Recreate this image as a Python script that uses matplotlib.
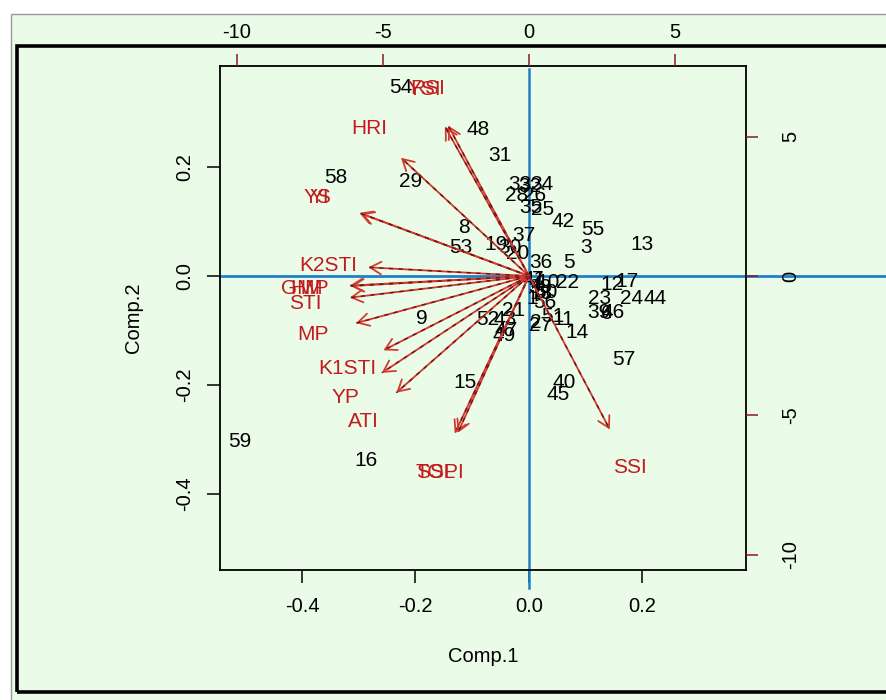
import matplotlib
matplotlib.use("Agg")
import matplotlib.pyplot as plt
from matplotlib.patches import Rectangle

plt.rcParams['font.family'] = ['Liberation Sans', 'DejaVu Sans']

# ---- observation scores (Comp.1 / Comp.2, bottom/left axes) ----
score_labels = ["54", "48", "31", "58", "29", "8", "53", "19", "30", "20",
                "37", "33", "32", "34", "28", "26", "35", "25", "42", "55",
                "13", "3", "36", "5", "22", "10", "4", "12", "17", "7",
                "23", "24", "44", "39", "46", "6", "56", "18", "51", "11",
                "14", "27", "2", "21", "52", "43", "49", "47", "9", "15",
                "40", "45", "57", "59", "16", "1", "38", "41", "50"]
score_x = [-0.2256, -0.0899, -0.0511, -0.340, -0.208, -0.1145, -0.1198, -0.0581, -0.0335, -0.0194,
           -0.0088, -0.0159, 0.0018, 0.0229, -0.0211, 0.0106, 0.0035, 0.0247, 0.0599, 0.1128,
           0.1991, 0.1004, 0.0211, 0.0705, 0.0687, 0.0335, 0.0123, 0.1463, 0.1727, 0.0159,
           0.1251, 0.1815, 0.2220, 0.1233, 0.1480, 0.1374, 0.0282, 0.0211, 0.0423, 0.0599,
           0.0846, 0.0211, 0.0123, -0.0264, -0.0722, -0.0423, -0.0441, -0.0405, -0.1885, -0.1128,
           0.0617, 0.0511, 0.1674, -0.5093, -0.2872, 0.0053, 0.0194, 0.0088, 0.0300]
score_y = [0.345, 0.268, 0.222, 0.180, 0.174, 0.0899, 0.0532, 0.0569, 0.0532, 0.0404,
           0.0734, 0.1688, 0.1651, 0.1688, 0.1468, 0.1486, 0.1248, 0.1229, 0.0991, 0.0862,
           0.0587, 0.0514, 0.0239, 0.0239, -0.0110, -0.0110, -0.0147, -0.0147, -0.0092, -0.0055,
           -0.0404, -0.0404, -0.0404, -0.0661, -0.0661, -0.0679, -0.0495, -0.0312, -0.0734, -0.0807,
           -0.1028, -0.0917, -0.0862, -0.0642, -0.0807, -0.0807, -0.1083, -0.1009, -0.0771, -0.1945,
           -0.1945, -0.2165, -0.1523, -0.3028, -0.3376, -0.0404, -0.0202, -0.0055, -0.0294]

# ---- variable loadings (top/right axes) ----
var_labels = ["RSI", "YSI", "HRI", "YS", "YI", "K2STI", "GMP", "HM", "STI", "MP",
              "K1STI", "YP", "ATI", "TOL", "SSPI", "SSI"]
var_x = [-3.46, -3.60, -5.48, -7.26, -7.19, -6.88, -7.67, -7.62, -7.67, -7.40,
         -6.23, -6.30, -5.68, -3.18, -3.05, 3.46]
var_y = [6.74, 6.70, 5.30, 2.83, 2.80, 0.39, -0.43, -0.45, -0.97, -2.11,
         -3.33, -4.34, -5.23, -7.06, -7.03, -6.88]

x1_ticks = [-0.4, -0.2, 0.0, 0.2]
x1_ticklabels = ["-0.4", "-0.2", "0.0", "0.2"]
y1_ticks = [-0.4, -0.2, 0.0, 0.2]
y1_ticklabels = ["-0.4", "-0.2", "0.0", "0.2"]
x2_ticks = [-10, -5, 0, 5]
x2_ticklabels = ["-10", "-5", "0", "5"]
y2_ticks = [-10, -5, 0, 5]
y2_ticklabels = ["-10", "-5", "0", "5"]

GREEN = "#eafbe8"
RED = "#c41a1e"
ARROW = "#d23a30"
BLUE = "#1f80c8"
TICKRED = "#8b1a1a"
FS = 15
TFS = 14.5

W, H = 886, 700
fig = plt.figure(figsize=(W / 100, H / 100), dpi=100)
fig.patch.set_facecolor("white")

# outer panel
fig.patches.append(Rectangle((11 / W, -0.01), 1.0, (H - 14) / H + 0.01,
                             transform=fig.transFigure, facecolor=GREEN,
                             edgecolor="#9a9a9a", lw=1.0, zorder=-10))
fig.patches.append(Rectangle((17 / W, (H - 692) / H), 1.0, (692 - 46) / H,
                             transform=fig.transFigure, fill=False,
                             edgecolor="black", lw=2.6, zorder=-9))

pos = [220 / W, (H - 570) / H, (746 - 220) / W, (570 - 66) / H]
ax = fig.add_axes(pos)
ax.set_zorder(2)
ax.set_facecolor(GREEN)
ax.set_xlim(-0.5445, 0.3824)
ax.set_ylim(-0.5394, 0.3853)
for s in ax.spines.values():
    s.set_linewidth(1.3)
    s.set_color("black")
ax.set_xticks(x1_ticks)
ax.set_xticklabels(x1_ticklabels)
ax.set_yticks(y1_ticks)
ax.set_yticklabels(y1_ticklabels, rotation=90, va="center")
ax.tick_params(axis="x", length=9.5, width=1.1, labelsize=TFS, pad=10)
ax.tick_params(axis="y", length=9.5, width=1.1, labelsize=TFS, pad=9)

ax2 = fig.add_axes(pos, frameon=False)
ax2.set_zorder(3)
ax2.patch.set_visible(False)
ax2.set_xlim(-10.58, 7.43)
ax2.set_ylim(-10.54, 7.53)
ax2.xaxis.tick_top()
ax2.yaxis.tick_right()
ax2.set_xticks(x2_ticks)
ax2.set_xticklabels(x2_ticklabels)
ax2.set_yticks(y2_ticks)
ax2.set_yticklabels(y2_ticklabels, rotation=90, va="center")
ax2.tick_params(axis="x", length=8.5, width=1.1, color=TICKRED, labelcolor="black",
                labelsize=TFS, pad=9)
ax2.tick_params(axis="y", length=8.5, width=1.1, color=TICKRED, labelcolor="black",
                labelsize=TFS, pad=17)

# blue reference lines
ax.plot([ax.get_xlim()[0], 0.64], [0, 0], color=BLUE, lw=2.0, clip_on=False, zorder=2)
ax.plot([0, 0], [0.380, -0.5725], color=BLUE, lw=1.8, clip_on=False, zorder=2)

# scores
for lab, x, y in zip(score_labels, score_x, score_y):
    ax.text(x, y, lab, color="black", fontsize=FS, ha="center", va="center", zorder=4)

# arrows and variable labels
for lab, x, y in zip(var_labels, var_x, var_y):
    ax2.annotate("", xy=(0.8 * x, 0.8 * y), xytext=(0, 0),
                 arrowprops=dict(arrowstyle="->,head_length=0.8,head_width=0.45",
                                 color=ARROW, lw=1.3, shrinkA=0, shrinkB=0,
                                 mutation_scale=10), zorder=3)
    ax2.plot([0, 0.8 * x], [0, 0.8 * y], color="#6a1414", lw=1.0,
             dashes=(3, 4), zorder=3)
    ax2.text(x, y, lab, color=RED, fontsize=FS, ha="center", va="center", zorder=4)

fig.text(483 / W, 1 - 657 / H, "Comp.1", fontsize=TFS, ha="center", va="center")
fig.text(133 / W, 1 - 318 / H, "Comp.2", fontsize=TFS, ha="center", va="center",
         rotation=90)

fig.savefig("out.png", dpi=100, facecolor=fig.get_facecolor())
